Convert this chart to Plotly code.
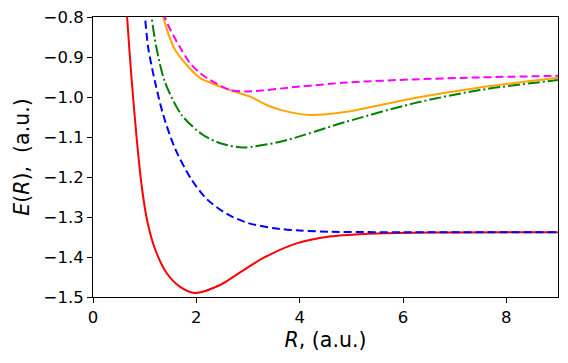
import plotly.graph_objects as go

# curves (R in a.u., E in a.u.)
r_red = [0.60, 0.66, 0.75, 0.85, 0.95, 1.05, 1.2, 1.425, 1.68, 1.97, 2.46, 2.84,
         3.29, 3.94, 4.58, 5.23, 5.87, 7.0, 9.0]
e_red = [-0.66, -0.80, -0.96, -1.11, -1.23, -1.31, -1.38, -1.44, -1.474, -1.49, -1.47, -1.439,
         -1.403, -1.366, -1.349, -1.3425, -1.34, -1.3385, -1.338]

r_blue = [0.95, 1.006, 1.07, 1.2, 1.36, 1.586, 1.9, 2.2, 2.6, 3.0, 3.5, 4.0, 4.6, 6.0, 9.0]
e_blue = [-0.72, -0.80, -0.878, -0.962, -1.045, -1.128, -1.205, -1.255, -1.293, -1.315, -1.328, -1.334, -1.337, -1.338, -1.338]

r_green = [1.08, 1.135, 1.23, 1.39, 1.715, 2.13, 2.5, 2.9, 3.62, 4.9, 6.2, 7.49, 9.0]
e_green = [-0.72, -0.80, -0.878, -0.962, -1.045, -1.095, -1.117, -1.126, -1.112, -1.062, -1.016, -0.9825, -0.9575]

r_orange = [1.26, 1.36, 1.58, 1.8, 2.07, 2.65, 3.04, 3.36, 3.68, 4.2, 4.9, 6.2, 7.49, 9.0]
e_orange = [-0.70, -0.80, -0.88, -0.918, -0.952, -0.9825, -0.999, -1.02, -1.034, -1.045, -1.037, -1.003, -0.976, -0.952]

r_magenta = [1.28, 1.39, 1.68, 1.876, 2.07, 2.26, 2.65, 3.0, 4.0, 4.9, 6.2, 7.49, 9.0]
e_magenta = [-0.70, -0.80, -0.875, -0.915, -0.94, -0.957, -0.9825, -0.986, -0.974, -0.964, -0.956, -0.951, -0.947]

x_ticks = [0, 2, 4, 6, 8]
y_ticks = [-1.5, -1.4, -1.3, -1.2, -1.1, -1.0, -0.9, -0.8]
y_ticktext = ["\u22121.5", "\u22121.4", "\u22121.3", "\u22121.2", "\u22121.1", "\u22121.0", "\u22120.9", "\u22120.8"]

fig = go.Figure()

def add_curve(r, e, color, dash):
    fig.add_trace(go.Scatter(x=r, y=e, mode="lines", line_shape="spline",
                             line=dict(color=color, width=2, dash=dash, smoothing=0.8),
                             showlegend=False, hoverinfo="skip"))

add_curve(r_red, e_red, "red", "solid")
add_curve(r_blue, e_blue, "blue", "8px,4px")
add_curve(r_green, e_green, "green", "12px,3px,2px,3px")
add_curve(r_orange, e_orange, "orange", "solid")
add_curve(r_magenta, e_magenta, "magenta", "8px,4px")

axis_style = dict(showgrid=False, zeroline=False, showline=True, linecolor="black",
                  linewidth=1, mirror=True, ticks="outside", ticklen=5, tickwidth=1,
                  tickcolor="black", tickfont=dict(size=16.5, color="black"))

fig.update_xaxes(range=[0, 9], tickvals=x_ticks,
                 title=dict(text="<i>R</i>, (a.u.)", font=dict(size=20.5, color="black"), standoff=6),
                 **axis_style)
fig.update_yaxes(range=[-1.5, -0.8], tickvals=y_ticks, ticktext=y_ticktext,
                 title=dict(text="<i>E</i>(<i>R</i>),  (a.u.)", font=dict(size=20.5, color="black"), standoff=8),
                 **axis_style)

fig.update_layout(width=568, height=363, template="none",
                  paper_bgcolor="white", plot_bgcolor="white",
                  font=dict(family="DejaVu Sans", color="black"),
                  margin=dict(l=93, r=10, t=17, b=66, autoexpand=False))

# drop the default page margin so the figure sits at the window's corner
fig.write_html("out.html", config={"displayModeBar": False},
               post_script="document.body.style.margin='0px';")
